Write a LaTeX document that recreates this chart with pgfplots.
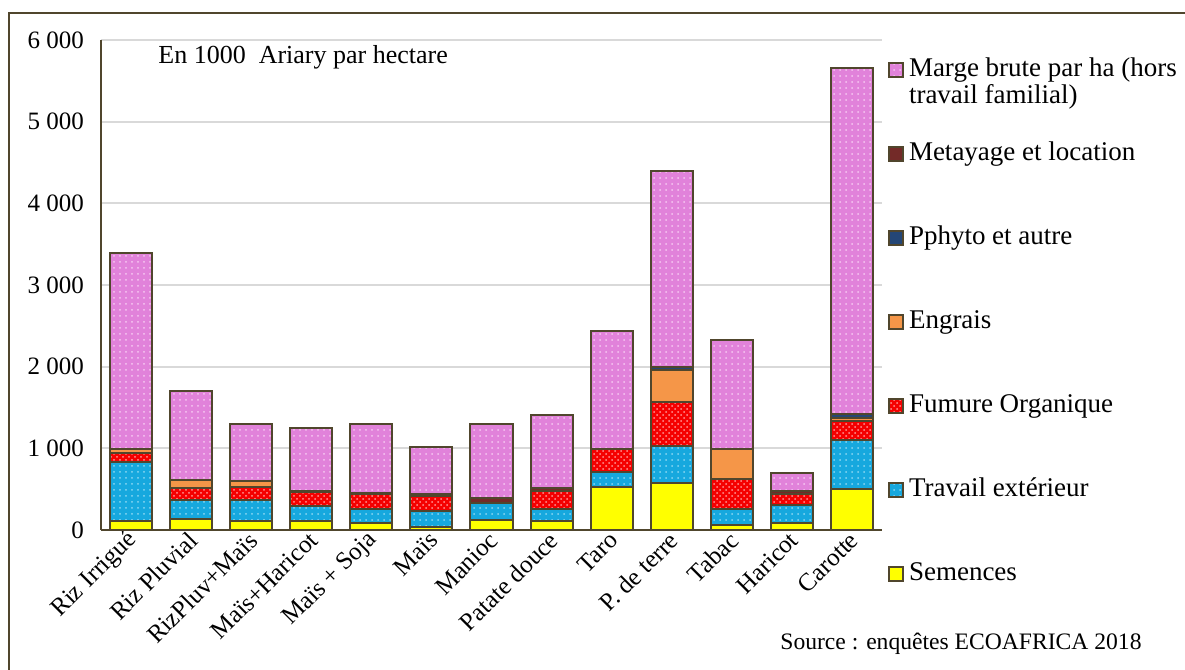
\documentclass[border=0pt]{standalone}
\usepackage{pgfplots}
\pgfplotsset{compat=1.18}
\usepackage{pgfplotstable}
\usepackage{fontspec}
\setmainfont{Liberation Serif}
\usetikzlibrary{patterns}
\definecolor{outl}{RGB}{80,70,45}
\definecolor{mpink}{RGB}{225,130,218}
\definecolor{mpinkd}{RGB}{246,200,242}
\definecolor{mcyan}{RGB}{22,168,222}
\definecolor{mcyand}{RGB}{140,215,242}
\definecolor{mred}{RGB}{245,0,0}
\definecolor{mredd}{RGB}{255,150,150}
\definecolor{morange}{RGB}{245,150,72}
\definecolor{mblue}{RGB}{36,70,118}
\definecolor{mbrown}{RGB}{115,42,40}
\definecolor{myellow}{RGB}{255,255,0}
\pgfplotstableread{
idx S T F E P M G
0 114 715 118 45 0 0 2396
1 139 228 143 102 0 0 1094
2 114 253 155 82 0 0 690
3 114 184 164 0 0 15 768
4 90 163 184 0 0 20 837
5 40 193 187 0 0 20 572
6 118 216 0 0 0 58 902
7 114 139 225 0 0 40 886
8 530 176 290 0 0 0 1445
9 579 450 534 396 41 0 2396
10 65 192 367 368 0 0 1334
11 90 212 135 0 0 41 216
12 502 600 233 40 45 0 4237
}\data
\pgfplotsset{sq/.style={legend image code/.code={\draw[##1,line width=0.8pt] (0pt,-3.5pt) rectangle (7pt,3.5pt);}}}
\begin{document}
\begin{tikzpicture}
\path[use as bounding box] (0,0) rectangle (592.5pt,335pt);
\draw[outl, line width=0.8pt] (4.5pt,-2pt) -- (4.5pt,328.5pt) -- (600pt,328.5pt);
\begin{axis}[
  at={(50.5pt,70pt)}, anchor=south west,
  scale only axis, width=390.5pt, height=245pt,
  ybar stacked, bar width=0.7,
  xmin=-0.5, xmax=12.5, ymin=0, ymax=6000,
  xtick={0,...,12},
  xticklabels={Riz Irrigué, Riz Pluvial, RizPluv+Maïs, Maïs+Haricot, Maïs + Soja, Maïs, Manioc, Patate douce, Taro, P. de terre, Tabac, Haricot, Carotte},
  ytick={0,1000,...,6000},
  yticklabels={0,1 000,2 000,3 000,4 000,5 000,6 000},
  major tick length=0pt,
  axis x line*=bottom, axis y line*=left,
  axis line style={outl, line width=1pt},
  ymajorgrids, grid style={black!15, line width=0.9pt},
  xticklabel style={rotate=45, anchor=east, font=\fontsize{12.5}{14}\selectfont, xshift=2pt, yshift=-3pt},
  yticklabel style={font=\fontsize{12.5}{14}\selectfont, xshift=-5pt},
  legend style={at={(1,1)}, anchor=north west, xshift=0pt, yshift=-5pt, draw=none, fill=none,
    row sep=26.5pt, column sep=1.5pt, font=\fontsize{13.5}{14.5}\selectfont, cells={anchor=west},
    nodes={text height=10pt, text depth=3.5pt, inner sep=1pt}},
  reverse legend,
  every axis plot/.append style={draw=outl, line width=1pt, sq},
]
\addplot[fill=myellow] table[x=idx,y=S]{\data};
\addlegendentry{Semences}
\addplot[fill=mcyan, postaction={pattern=dots, pattern color=mcyand}] table[x=idx,y=T]{\data};
\addlegendentry{Travail extérieur}
\addplot[fill=mred, postaction={pattern=crosshatch dots, pattern color=mredd}] table[x=idx,y=F]{\data};
\addlegendentry{Fumure Organique}
\addplot[fill=morange] table[x=idx,y=E]{\data};
\addlegendentry{Engrais}
\addplot[fill=mblue] table[x=idx,y=P]{\data};
\addlegendentry{Pphyto et autre}
\addplot[fill=mbrown] table[x=idx,y=M]{\data};
\addlegendentry{Metayage et location}
\addplot[fill=mpink, postaction={pattern=dots, pattern color=mpinkd}] table[x=idx,y=G]{\data};
\addlegendentry{\begin{tabular}[t]{@{}l@{}}Marge brute par ha (hors\\[-1pt]travail familial)\end{tabular}}
\end{axis}
\node[anchor=west, inner sep=0pt, font=\fontsize{13}{15}\selectfont] at (79pt,306.5pt) {En 1000 \ Ariary par hectare};
\node[anchor=west, inner sep=0pt, font=\fontsize{11.8}{13}\selectfont] at (390pt,13pt) {Source : enquêtes ECOAFRICA 2018};
\end{tikzpicture}
\end{document}
